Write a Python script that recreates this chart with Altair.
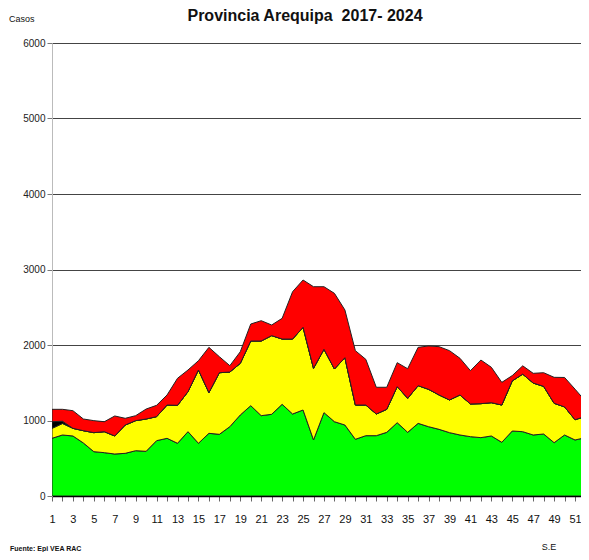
import altair as alt
import pandas as pd

weeks = list(range(1, 53))
green = [764, 808, 795, 702, 587, 574, 556, 565, 600, 592,
         733, 764, 698, 852, 698, 830, 817, 918, 1073, 1196,
         1064, 1082, 1214, 1086, 1139, 742, 1104, 984, 940, 751,
         799, 799, 843, 971, 843, 962, 918, 883, 839, 808,
         786, 773, 795, 711, 861, 852, 808, 821, 706, 808,
         742, 773]
yellow = [132, 152, 101, 163, 252, 278, 239, 375, 398, 428,
          318, 441, 503, 530, 971, 539, 816, 724, 684, 857,
          989, 1042, 865, 993, 1095, 949, 839, 698, 892, 454,
          406, 287, 305, 477, 451, 499, 495, 455, 433, 530,
          433, 450, 441, 494, 664, 762, 688, 631, 522, 372,
          268, 282]
black = [88, 30] + [0] * 50
red = [164, 158, 234, 155, 159, 132, 265, 89, 66, 132,
       150, 133, 358, 287, 123, 600, 212, 84, 154, 225,
       269, 141, 274, 627, 627, 1081, 829, 1002, 632, 720,
       605, 354, 292, 318, 392, 508, 574, 640, 653, 486,
       441, 578, 469, 300, 70, 110, 129, 181, 344, 390,
       405, 200]

series_names = ["verde", "amarillo", "negro", "rojo"]
series_colors = ["#00FF00", "#FFFF00", "#000000", "#FF0000"]
series_values = [green, yellow, black, red]

rows = []
for k, (name, vals) in enumerate(zip(series_names, series_values)):
    for w, v in zip(weeks, vals):
        rows.append({"week": w, "serie": name, "value": v, "ord": k})
df = pd.DataFrame(rows)

FONT = "Liberation Sans Narrow, Arial Narrow, Liberation Sans, Arial, sans-serif"

areas = alt.Chart(df).mark_area(
    stroke="#222222", strokeWidth=1, clip=True, interpolate="linear"
).encode(
    x=alt.X("week:Q",
            scale=alt.Scale(domain=[1, 51.57], nice=False, zero=False),
            axis=alt.Axis(values=weeks[:51], title=None, grid=False,
                          labelExpr="datum.value % 2 == 1 ? datum.label : ''",
                          domainColor="#000000", domainWidth=1.5,
                          tickColor="#666666", tickSize=5,
                          labelPadding=12, labelFontSize=11, labelFont=FONT,
                          labelColor="#111111", labelFlush=False)),
    y=alt.Y("value:Q", stack="zero",
            scale=alt.Scale(domain=[0, 6000], nice=False),
            axis=alt.Axis(values=[0, 1000, 2000, 3000, 4000, 5000, 6000],
                          format="d",
                          title=None, grid=True, gridColor="#444444",
                          gridWidth=1, domainColor="#BBBBBB",
                          tickColor="#777777", tickSize=5,
                          labelFontSize=10, labelFont=FONT,
                          labelColor="#222222", labelPadding=2)),
    color=alt.Color("serie:N",
                    scale=alt.Scale(domain=series_names, range=series_colors),
                    legend=None),
    order=alt.Order("ord:Q", sort="ascending"),
)

def label(txt, x, y, size, weight="normal", align="left", baseline="middle"):
    return alt.Chart(pd.DataFrame({"t": [txt]})).mark_text(
        font=FONT, fontSize=size, fontWeight=weight, align=align,
        baseline=baseline, color="#111111"
    ).encode(x=alt.value(x), y=alt.value(y), text="t:N")

title = label("Provincia Arequipa\u00a0 2017- 2024", 253, -22, 16, "bold",
              "center", "alphabetic")
casos = label("Casos", -43, -24, 9)
se = label("S.E", 497, 504, 9, align="center")
fuente = label("Fuente: Epi VEA RAC", -42, 508, 7, "bold",
               baseline="alphabetic")

chart = alt.layer(areas, title, casos, se, fuente).properties(
    width=529, height=453,
    autosize=alt.AutoSizeParams(type="none"),
    padding={"left": 44, "top": 35, "right": 0, "bottom": 56},
).configure_view(stroke=None).configure(background="white")

chart.save("out.html", embed_options={"renderer": "svg", "actions": False})
